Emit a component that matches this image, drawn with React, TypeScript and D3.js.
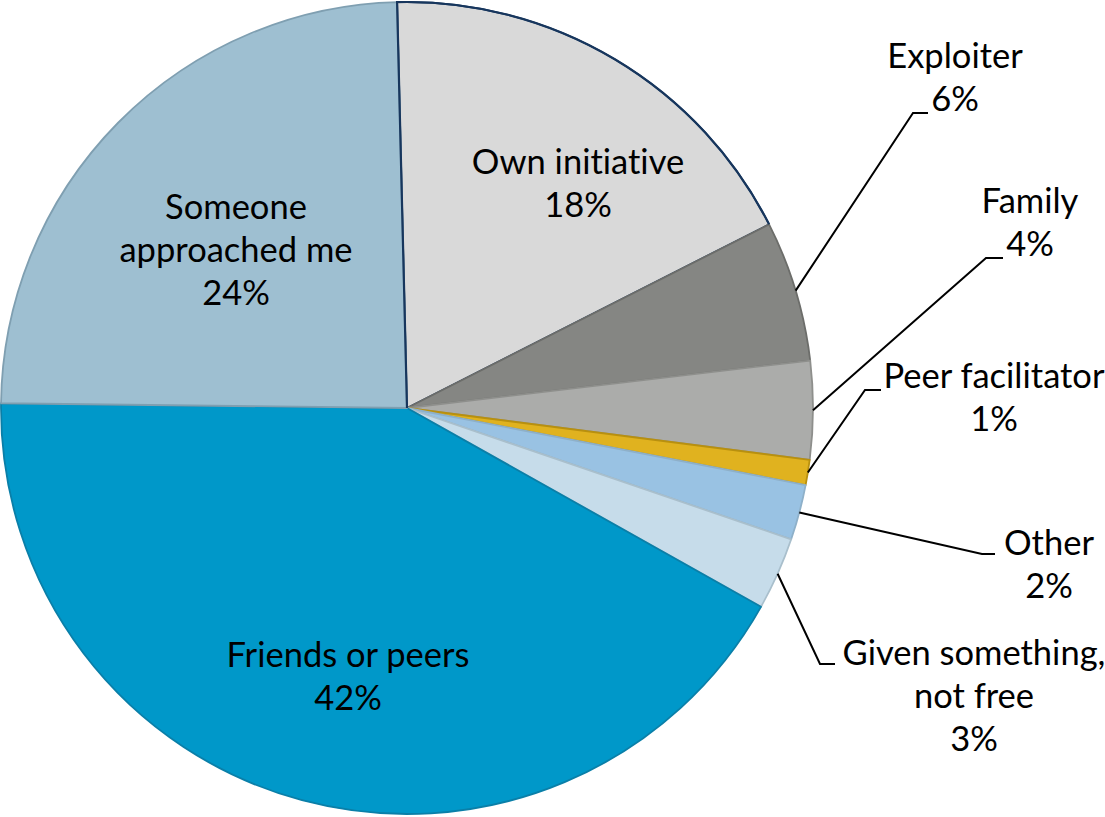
import * as d3 from 'd3';

const categories = [
  'Own initiative',
  'Exploiter',
  'Family',
  'Peer facilitator',
  'Other',
  'Given something, not free',
  'Friends or peers',
  'Someone approached me',
];
const values = [17.9, 5.6, 3.9, 1.0, 2.2, 2.9, 42.0, 24.4];
const pctLabels = ['18%', '6%', '4%', '1%', '2%', '3%', '42%', '24%'];
const labelLines = [
  ['Own initiative'],
  ['Exploiter'],
  ['Family'],
  ['Peer facilitator'],
  ['Other'],
  ['Given something,', 'not free'],
  ['Friends or peers'],
  ['Someone', 'approached me'],
];
const fills = ['#d9d9d9', '#858683', '#abacaa', '#e0b21f', '#99c2e3', '#c6dcea', '#0098c9', '#9ebfd1'];
const strokes = ['#17365d', '#6c6d6a', '#8e8f8c', '#b8900f', '#8eb0c9', '#a9bfcc', '#0a7fa8', '#7f9fb1'];

// label layout: text centre x, first baseline, and (for outside labels) the elbow of the leader line
const labelPos: { x: number; y: number; elbow?: [number, number, number] }[] = [
  { x: 578, y: 174 },
  { x: 955, y: 68, elbow: [913, 928, 113] },
  { x: 1030, y: 213, elbow: [986, 1003, 258] },
  { x: 994, y: 388, elbow: [865, 881, 390] },
  { x: 1049, y: 555, elbow: [982, 995, 554] },
  { x: 974, y: 665, elbow: [820, 835, 664] },
  { x: 348, y: 667 },
  { x: 236, y: 219 },
];

const W = 1105;
const H = 817;
const cx = 407;
const cy = 408;
const R = 406;
const LINE = 43;
const FONT = 'Lato, "Open Sans", sans-serif';

export default function App() {
  const start = (-1.4 * Math.PI) / 180;
  const pie = d3
    .pie<number>()
    .value((v) => v)
    .sort(null)
    .startAngle(start)
    .endAngle(start + 2 * Math.PI);
  const slices = pie(values);
  const arc = d3.arc<d3.PieArcDatum<number>>().innerRadius(0).outerRadius(R);

  // navy outline of the first slice (left radius and rim) sits over its neighbours
  const first = slices[0];
  const p = d3.path();
  p.moveTo(0, 0);
  p.lineTo(R * Math.sin(first.startAngle), -R * Math.cos(first.startAngle));
  p.arc(0, 0, R, first.startAngle - Math.PI / 2, first.endAngle - Math.PI / 2);

  return (
    <svg
      width={W}
      height={H}
      viewBox={`0 0 ${W} ${H}`}
      style={{ position: 'absolute', left: 0, top: 0, background: '#fff', fontVariantLigatures: 'none' }}
      fontFamily={FONT}
    >
      <g transform={`translate(${cx},${cy})`}>
        {slices.map((s, i) => (
          <path
            key={categories[i]}
            d={arc(s) ?? undefined}
            fill={fills[i]}
            stroke={strokes[i]}
            strokeWidth={1.8}
            strokeLinejoin="round"
          />
        ))}
        <path d={p.toString()} fill="none" stroke={strokes[0]} strokeWidth={2.2} />
      </g>
      {slices.map((s, i) => {
        const lp = labelPos[i];
        if (!lp.elbow) return null;
        const mid = (s.startAngle + s.endAngle) / 2;
        const x0 = cx + R * Math.sin(mid);
        const y0 = cy - R * Math.cos(mid);
        const [ex, hx, ey] = lp.elbow;
        return (
          <polyline
            key={`l-${categories[i]}`}
            points={`${x0},${y0} ${ex},${ey} ${hx},${ey}`}
            fill="none"
            stroke="#000"
            strokeWidth={2}
          />
        );
      })}
      {labelLines.map((lines, i) => {
        const lp = labelPos[i];
        const all = [...lines, pctLabels[i]];
        return (
          <text key={`t-${categories[i]}`} textAnchor="middle" fontSize={34.5} fill="#000">
            {all.map((ln, j) => (
              <tspan key={j} x={lp.x} y={lp.y + j * LINE}>
                {ln}
              </tspan>
            ))}
          </text>
        );
      })}
    </svg>
  );
}
